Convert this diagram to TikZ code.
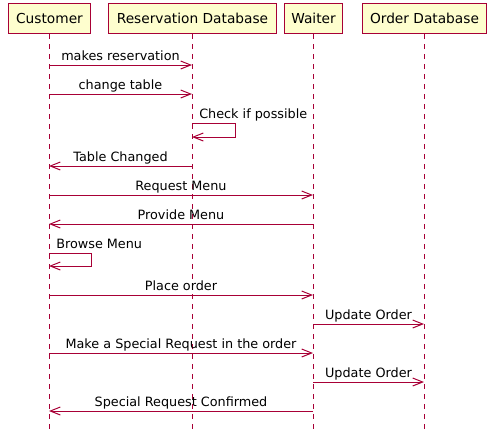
\documentclass[tikz,border=0pt]{standalone}
\usepackage{fontspec}
\setmainfont{DejaVu Sans}
\usetikzlibrary{arrows.meta}
\definecolor{uml}{HTML}{A80036}
\definecolor{boxfill}{HTML}{FEFECE}
\begin{document}
\begin{tikzpicture}[x=0.75pt,y=-0.75pt,
  part/.style={draw=uml,fill=boxfill,line width=1.1pt,inner sep=0pt,
    minimum height=22.5pt,font=\fontsize{10.3}{12}\selectfont},
  life/.style={draw=uml,line width=0.75pt,dash pattern=on 3.75pt off 3.75pt},
  msg/.style={draw=uml,line width=0.75pt,-{Straight Barb[length=7.5pt,width=6pt]}},
  lbl/.style={font=\fontsize{9.6}{11}\selectfont,inner sep=0pt,anchor=base},
  lblw/.style={lbl,anchor=base west}]
\useasboundingbox (0,0) rectangle (496,440);
% lifeline ends
\coordinate (custE) at (49,430);
\coordinate (resE) at (192,430);
\coordinate (waitE) at (313,430);
\coordinate (ordE) at (424,430);
% participants
\node[part,minimum width=61.5pt] (cust) at (49.5,18.5) {Customer};
\node[part,minimum width=126pt] (res) at (192.5,18.5) {Reservation Database};
\node[part,minimum width=43.5pt] (wait) at (313.5,18.5) {Waiter};
\node[part,minimum width=93pt] (ord) at (424.5,18.5) {Order Database};
\draw[life] (cust.south -| custE) -- (custE);
\draw[life] (res.south -| resE) -- (resE);
\draw[life] (wait.south -| waitE) -- (waitE);
\draw[life] (ord.south -| ordE) -- (ordE);
% message anchor points
\coordinate (c1) at (49,65);  \coordinate (r1) at (192,65);
\coordinate (c2) at (49,94);  \coordinate (r2) at (192,94);
\coordinate (r3a) at (192,123); \coordinate (r3b) at (235,123);
\coordinate (r3c) at (235,137); \coordinate (r3d) at (192,137);
\coordinate (r4) at (192,166); \coordinate (c4) at (49,166);
\coordinate (c5) at (49,195); \coordinate (w5) at (313,195);
\coordinate (w6) at (313,224); \coordinate (c6) at (49,224);
\coordinate (c7a) at (49,253); \coordinate (c7b) at (91,253);
\coordinate (c7c) at (91,266); \coordinate (c7d) at (49,266);
\coordinate (c8) at (49,295); \coordinate (w8) at (313,295);
\coordinate (w9) at (313,324); \coordinate (o9) at (424,324);
\coordinate (c10) at (49,353); \coordinate (w10) at (313,353);
\coordinate (w11) at (313,382); \coordinate (o11) at (424,382);
\coordinate (w12) at (313,411); \coordinate (c12) at (49,411);
% messages
\draw[msg] (c1) -- (r1);
\node[lbl] (t1) at (120.5,60) {makes reservation};
\draw[msg] (c2) -- (r2);
\node[lbl] (t2) at (120.5,89) {change table};
\draw[msg] (r3a) -- (r3b) -- (r3c) -- (r3d);
\node[lblw] (t3) at (199,118) {Check if possible};
\draw[msg] (r4) -- (c4);
\node[lbl] (t4) at (120.5,161) {Table Changed};
\draw[msg] (c5) -- (w5);
\node[lbl] (t5) at (181,190) {Request Menu};
\draw[msg] (w6) -- (c6);
\node[lbl] (t6) at (181,219) {Provide Menu};
\draw[msg] (c7a) -- (c7b) -- (c7c) -- (c7d);
\node[lblw] (t7) at (56,248) {Browse Menu};
\draw[msg] (c8) -- (w8);
\node[lbl] (t8) at (181,290) {Place order};
\draw[msg] (w9) -- (o9);
\node[lbl] (t9) at (368.5,319) {Update Order};
\draw[msg] (c10) -- (w10);
\node[lbl] (t10) at (181,348) {Make a Special Request in the order};
\draw[msg] (w11) -- (o11);
\node[lbl] (t11) at (368.5,377) {Update Order};
\draw[msg] (w12) -- (c12);
\node[lbl] (t12) at (181,406) {Special Request Confirmed};
\end{tikzpicture}
\end{document}
